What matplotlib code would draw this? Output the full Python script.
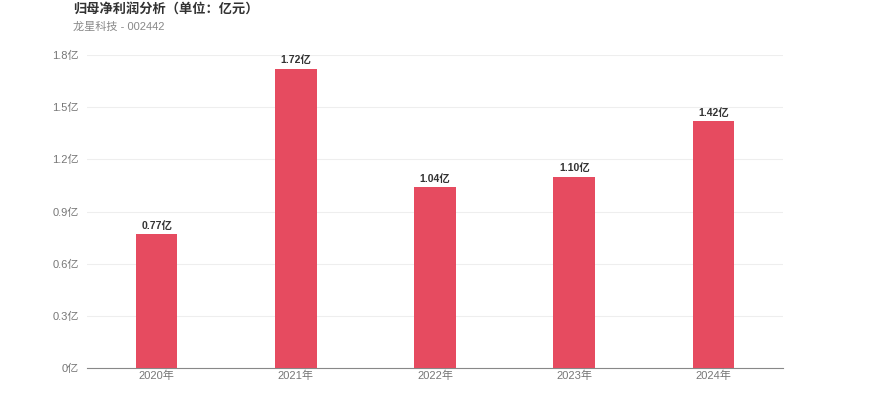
import matplotlib.pyplot as plt

plt.rcParams['font.family'] = ['Liberation Sans', 'Noto Sans CJK SC', 'DejaVu Sans']

# 数据
years = ['2020年', '2021年', '2022年', '2023年', '2024年']
profit = [0.77, 1.72, 1.04, 1.10, 1.42]
labels = ['0.77亿', '1.72亿', '1.04亿', '1.10亿', '1.42亿']
yticks = [0, 0.3, 0.6, 0.9, 1.2, 1.5, 1.8]
ytick_labels = ['0亿', '0.3亿', '0.6亿', '0.9亿', '1.2亿', '1.5亿', '1.8亿']

fig = plt.figure(figsize=(8.7, 4.17), dpi=100)
ax = fig.add_axes([0.1, 0.1175, 0.8, 0.7505])

x = range(len(years))
ax.bar(x, profit, width=0.3, color='#e64b60', zorder=3)
for i, v in enumerate(profit):
    ax.text(i, v + 0.02, labels[i], ha='center', va='bottom', fontsize=7.5,
            fontweight='bold', color='#333333')

ax.set_xlim(-0.5, len(years) - 0.5)
ax.set_ylim(0, 1.8)
ax.set_yticks(yticks)
ax.set_yticklabels(ytick_labels)
ax.set_xticks(list(x))
ax.set_xticklabels(years)
ax.tick_params(axis='y', length=0, labelsize=8, labelcolor='#777777', pad=6)
ax.tick_params(axis='x', length=0, labelsize=8, labelcolor='#777777', pad=2)
ax.grid(axis='y', color='#eeeeee', linewidth=0.8, zorder=0)
for s in ['top', 'right', 'left']:
    ax.spines[s].set_visible(False)
ax.spines['bottom'].set_color('#888888')

fig.text(73 / 870, 1 - 9 / 417, '归母净利润分析（单位：亿元）', fontsize=9.5, fontweight='bold',
         color='#333333', ha='left', va='center')
fig.text(73 / 870, 1 - 27 / 417, '龙星科技 - 002442', fontsize=8, color='#888888',
         ha='left', va='center')

fig.savefig('out.png', dpi=100)
